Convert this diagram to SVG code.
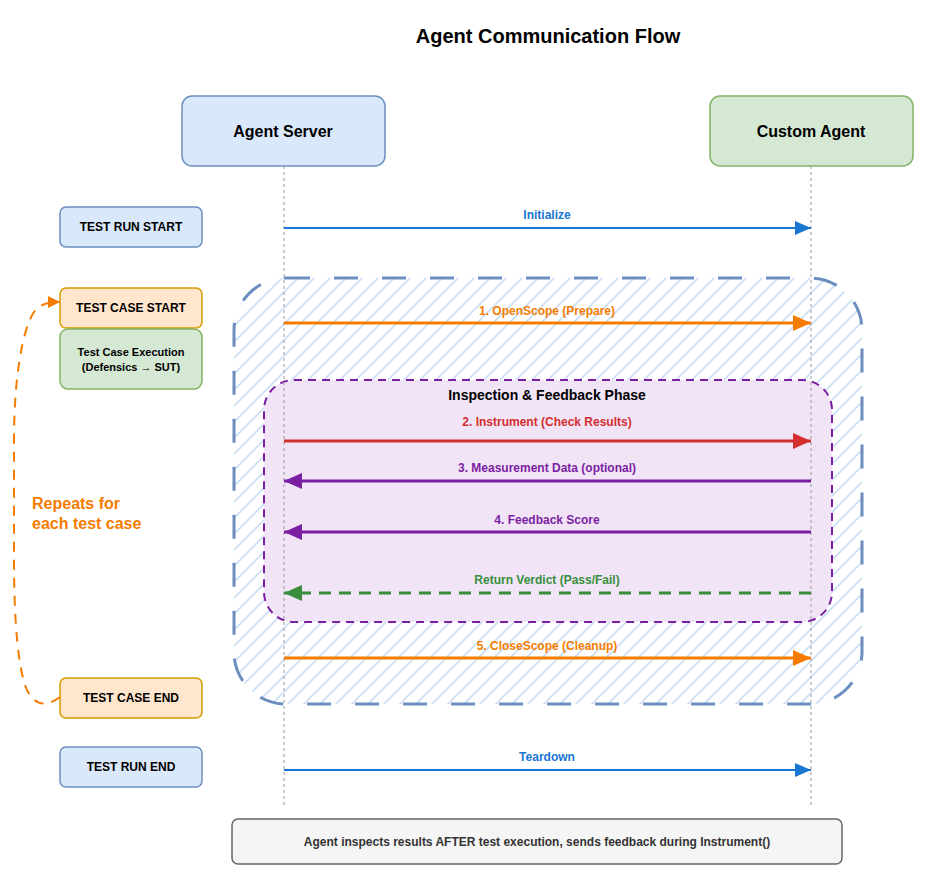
<svg xmlns="http://www.w3.org/2000/svg" width="936" height="880" viewBox="0 0 936 880">
<style>
text{font-family:"Liberation Sans",Arial,sans-serif;font-weight:bold;text-anchor:middle;dominant-baseline:central}
.lbl{font-size:12px}
.box{stroke-width:1.5}
.life{stroke:#999;stroke-width:1;stroke-dasharray:3 3;fill:none}
</style>
<defs>
<pattern id="hatch" patternUnits="userSpaceOnUse" width="16" height="16">
<path d="M-2,18 L18,-2 M-2,2 L2,-2 M14,18 L18,14" stroke="#c9ddf6" stroke-width="1.6"/>
</pattern>
<marker id="aBlue" markerWidth="16" markerHeight="14" refX="16" refY="7" orient="auto" markerUnits="userSpaceOnUse"><path d="M0,0 L16,7 L0,14 z" fill="#1976d2"/></marker>
<marker id="aOrange" markerWidth="18" markerHeight="16" refX="18" refY="8" orient="auto" markerUnits="userSpaceOnUse"><path d="M0,0 L18,8 L0,16 z" fill="#f57c00"/></marker>
<marker id="aRed" markerWidth="18" markerHeight="16" refX="18" refY="8" orient="auto" markerUnits="userSpaceOnUse"><path d="M0,0 L18,8 L0,16 z" fill="#d32f2f"/></marker>
<marker id="aPurple" markerWidth="18" markerHeight="16" refX="18" refY="8" orient="auto" markerUnits="userSpaceOnUse"><path d="M0,0 L18,8 L0,16 z" fill="#7b1fa2"/></marker>
<marker id="aGreen" markerWidth="18" markerHeight="16" refX="18" refY="8" orient="auto" markerUnits="userSpaceOnUse"><path d="M0,0 L18,8 L0,16 z" fill="#388e3c"/></marker>
<marker id="aLoop" markerWidth="12" markerHeight="12" refX="12" refY="6" orient="auto" markerUnits="userSpaceOnUse"><path d="M0,0 L12,6 L0,12 z" fill="#f57c00"/></marker>
</defs>
<rect width="936" height="880" fill="#ffffff"/>
<text x="548" y="36" style="font-size:20px" fill="#000">Agent Communication Flow</text>

<g id="scope-region">
<rect x="234" y="278" width="628" height="426" rx="52" fill="url(#hatch)" stroke="#6c8ebf" stroke-width="3" stroke-dasharray="24 24"/>
</g>
<g id="inspection-phase">
<rect x="264" y="380" width="568" height="242" rx="30" fill="#f1e4f6" stroke="#7b1fa2" stroke-width="2" stroke-dasharray="8 6"/>
<text x="547" y="395" style="font-size:14px" fill="#000">Inspection &amp; Feedback Phase</text>
</g>

<g id="lifelines">
<line class="life" x1="284" y1="166" x2="284" y2="805"/>
<line class="life" x1="811" y1="166" x2="811" y2="805"/>
</g>

<g id="agent-server">
<rect class="box" x="182" y="96" width="203" height="70" rx="10" fill="#dae8fc" stroke="#6c8ebf"/>
<text x="283" y="131" style="font-size:16px" fill="#000">Agent Server</text>
</g>
<g id="custom-agent">
<rect class="box" x="710" y="96" width="203" height="70" rx="10" fill="#d5e8d4" stroke="#82b366"/>
<text x="811" y="131" style="font-size:16px" fill="#000">Custom Agent</text>
</g>

<g id="test-run-start">
<rect class="box" x="60" y="207" width="142" height="40" rx="6" fill="#dae8fc" stroke="#6c8ebf"/>
<text class="lbl" x="131" y="227" fill="#000">TEST RUN START</text>
</g>
<g id="test-case-start">
<rect class="box" x="60" y="288" width="142" height="40" rx="6" fill="#ffe6cc" stroke="#d79b00"/>
<text class="lbl" x="131" y="308" fill="#000">TEST CASE START</text>
</g>
<g id="test-case-execution">
<rect class="box" x="60" y="329" width="142" height="60" rx="8" fill="#d5e8d4" stroke="#82b366"/>
<text x="131" y="352" style="font-size:11px" fill="#000">Test Case Execution</text>
<text x="131" y="367" style="font-size:11px" fill="#000">(Defensics → SUT)</text>
</g>
<g id="test-case-end">
<rect class="box" x="60" y="678" width="142" height="40" rx="6" fill="#ffe6cc" stroke="#d79b00"/>
<text class="lbl" x="131" y="698" fill="#000">TEST CASE END</text>
</g>
<g id="test-run-end">
<rect class="box" x="60" y="747" width="142" height="40" rx="6" fill="#dae8fc" stroke="#6c8ebf"/>
<text class="lbl" x="131" y="767" fill="#000">TEST RUN END</text>
</g>

<g id="note">
<rect x="232" y="819" width="610" height="45" rx="6" fill="#f5f5f5" stroke="#666666" stroke-width="1.5"/>
<text class="lbl" x="537" y="842" fill="#333">Agent inspects results AFTER test execution, sends feedback during Instrument()</text>
</g>

<g id="connectors">
<line x1="284" y1="228" x2="811" y2="228" stroke="#1976d2" stroke-width="2" marker-end="url(#aBlue)"/>
<text class="lbl" x="547" y="215" fill="#1976d2">Initialize</text>

<line x1="284" y1="323" x2="811" y2="323" stroke="#f57c00" stroke-width="3" marker-end="url(#aOrange)"/>
<text class="lbl" x="547" y="311" fill="#f57c00">1. OpenScope (Prepare)</text>

<line x1="284" y1="441" x2="811" y2="441" stroke="#d32f2f" stroke-width="3" marker-end="url(#aRed)"/>
<text class="lbl" x="547" y="422" fill="#d32f2f">2. Instrument (Check Results)</text>

<line x1="811" y1="481" x2="284" y2="481" stroke="#7b1fa2" stroke-width="3" marker-end="url(#aPurple)"/>
<text class="lbl" x="547" y="468" fill="#7b1fa2">3. Measurement Data (optional)</text>

<line x1="811" y1="532" x2="284" y2="532" stroke="#7b1fa2" stroke-width="3" marker-end="url(#aPurple)"/>
<text class="lbl" x="547" y="520" fill="#7b1fa2">4. Feedback Score</text>

<line x1="811" y1="593" x2="284" y2="593" stroke="#388e3c" stroke-width="3" stroke-dasharray="12 8" marker-end="url(#aGreen)"/>
<text class="lbl" x="547" y="580" fill="#388e3c">Return Verdict (Pass/Fail)</text>

<line x1="284" y1="658" x2="811" y2="658" stroke="#f57c00" stroke-width="3" marker-end="url(#aOrange)"/>
<text class="lbl" x="547" y="646" fill="#f57c00">5. CloseScope (Cleanup)</text>

<line x1="284" y1="770" x2="811" y2="770" stroke="#1976d2" stroke-width="2" marker-end="url(#aBlue)"/>
<text class="lbl" x="547" y="757" fill="#1976d2">Teardown</text>

<path d="M60,697 C45,708 35,705 27,690 C18,670 14,620 14,560 L14,440 C14,380 22,330 34,312 C40,304 48,302 60,302" fill="none" stroke="#f57c00" stroke-width="2" stroke-dasharray="10 8" marker-end="url(#aLoop)"/>
<text x="32" y="503" style="font-size:16px;text-anchor:start" fill="#f57c00">Repeats for</text>
<text x="32" y="523" style="font-size:16px;text-anchor:start" fill="#f57c00">each test case</text>
</g>
</svg>
